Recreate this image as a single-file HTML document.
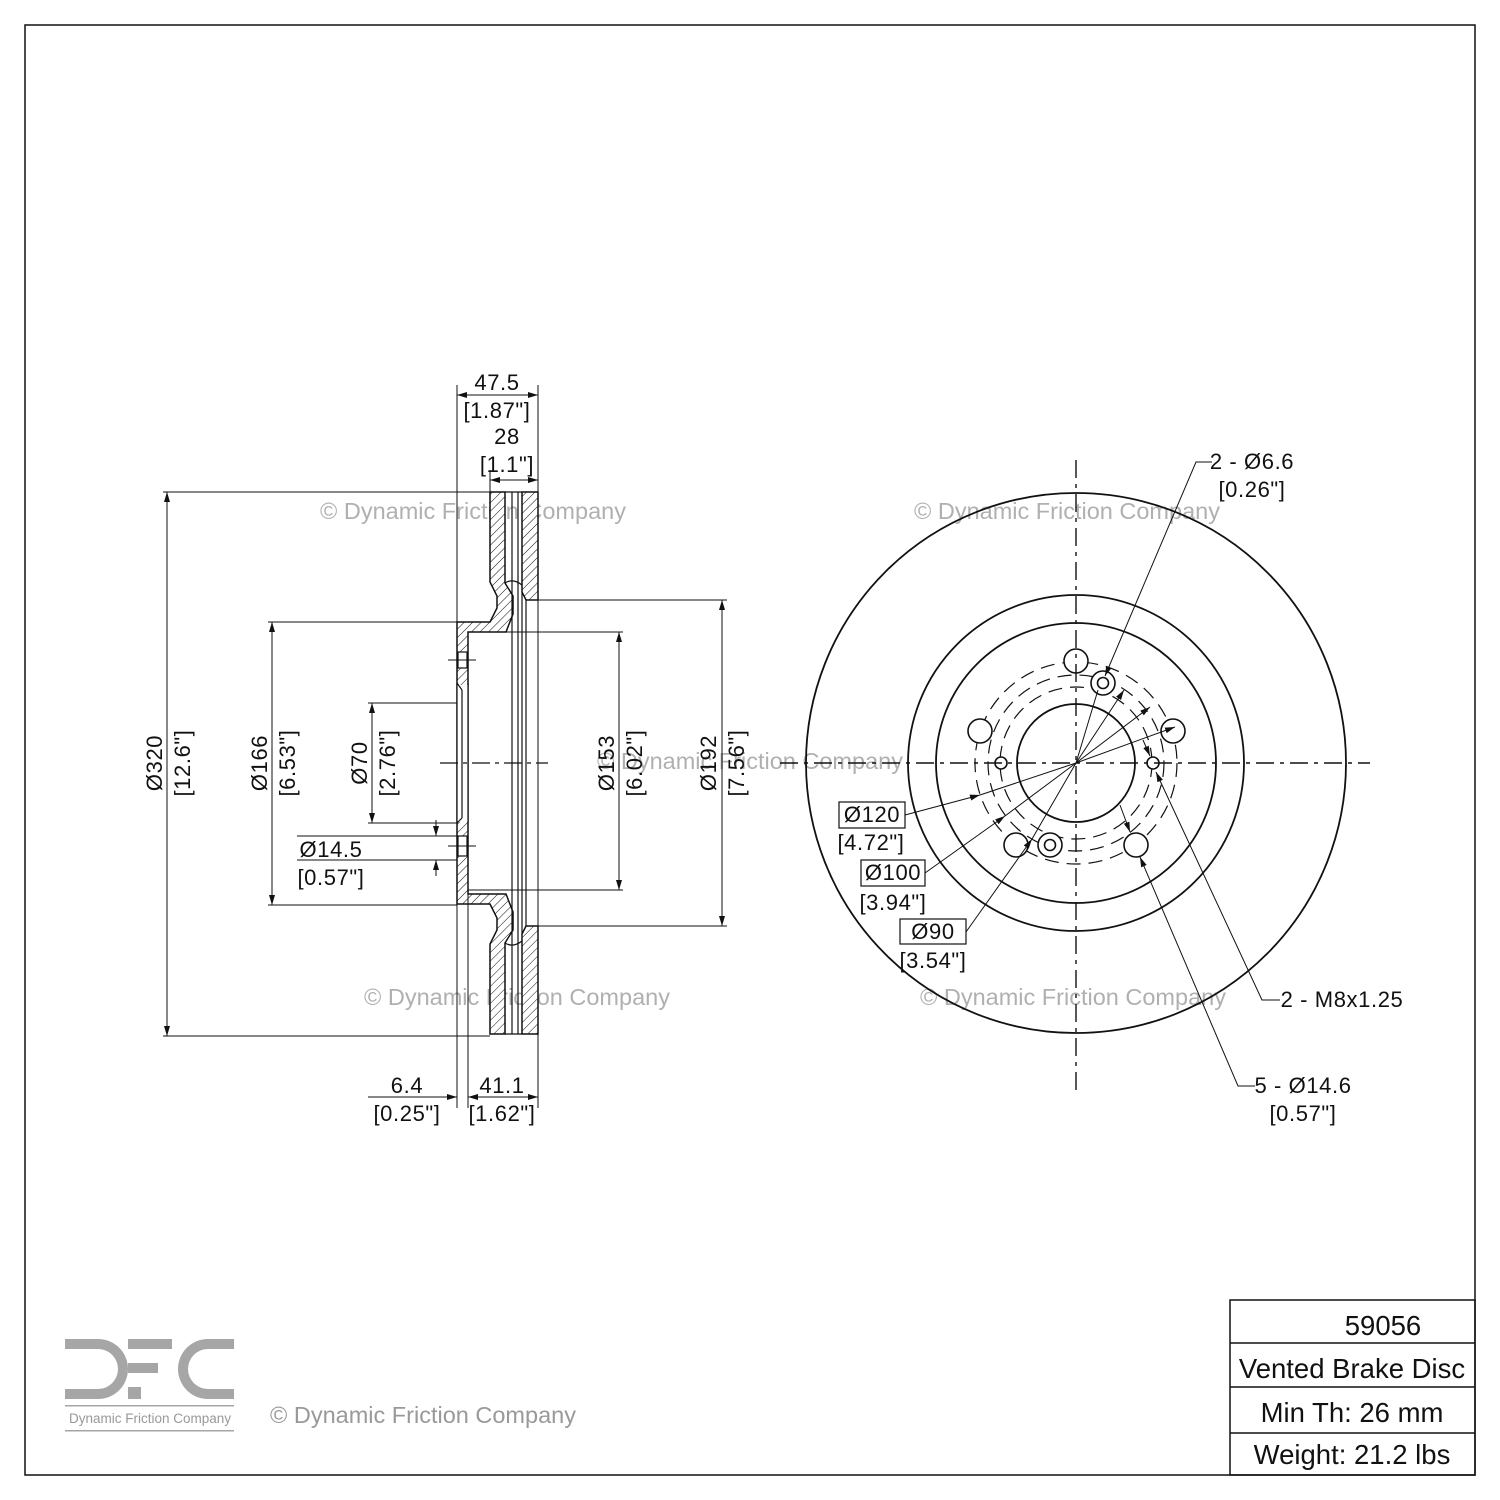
<!DOCTYPE html>
<html><head><meta charset="utf-8"><style>
html,body{margin:0;padding:0;background:#fff}
svg{display:block}
text{font-family:"Liberation Sans",sans-serif;fill:#111}
.wm{fill:#b0b0b0;font-size:23.5px}
.d{font-size:22px;letter-spacing:0.6px}
</style></head><body>
<svg width="1500" height="1500" viewBox="0 0 1500 1500" xmlns="http://www.w3.org/2000/svg">
<defs>
<pattern id="h" width="6" height="6" patternUnits="userSpaceOnUse" patternTransform="rotate(45)">
<rect width="6" height="6" fill="#fff"/><line x1="0" y1="0" x2="0" y2="6" stroke="#111" stroke-width="1"/></pattern>
<marker id="a" viewBox="0 0 10 10" refX="10" refY="5" markerWidth="10" markerHeight="10" markerUnits="userSpaceOnUse" orient="auto-start-reverse"><path d="M0,2 L10,5 L0,8 z" fill="#111"/></marker>
</defs>
<rect x="25" y="25" width="1450" height="1450" fill="none" stroke="#111" stroke-width="1.5"/>

<text class="wm" x="473" y="519" text-anchor="middle">© Dynamic Friction Company</text>
<text class="wm" x="1067" y="519" text-anchor="middle">© Dynamic Friction Company</text>
<text class="wm" x="750" y="769" text-anchor="middle">© Dynamic Friction Company</text>
<text class="wm" x="517" y="1005" text-anchor="middle">© Dynamic Friction Company</text>
<text class="wm" x="1073" y="1005" text-anchor="middle">© Dynamic Friction Company</text>

<g stroke="#111" stroke-width="1.5" fill="url(#h)">
<path d="M490,492 L505,492 L505,583 L513,596 L513,614 L506,632 L468,632 L468,894 L506,894 L513,912 L513,930 L505,943 L505,1034 L490,1034 L490,944 L497,930 L497,918 L490,904 L457,904 L457,622 L490,622 L497,608 L497,596 L490,582 Z"/>
<path d="M522,492 L538,492 L538,600 L526,600 L522,592 Z"/>
<path d="M522,1034 L538,1034 L538,926 L526,926 L522,934 Z"/>
</g>
<g stroke="#111" stroke-width="1.2" fill="#fff">
<rect x="457.5" y="685" width="10" height="137" stroke="none"/>
<rect x="458" y="652" width="9" height="16"/>
<rect x="458" y="836" width="9" height="20"/>
</g>
<g stroke="#111" stroke-width="1.2" fill="none">
<line x1="457" y1="683" x2="457" y2="823"/><line x1="462" y1="690" x2="462" y2="818"/><line x1="468" y1="683" x2="468" y2="823"/>
<path d="M457,683 L462,690 M457,823 L462,818"/>
<line x1="505" y1="492" x2="522" y2="492"/><line x1="505" y1="1034" x2="522" y2="1034"/>
<line x1="512" y1="492" x2="512" y2="1034"/><line x1="518" y1="492" x2="518" y2="1034"/>
<line x1="522" y1="592" x2="522" y2="934"/><line x1="526" y1="600" x2="526" y2="926"/>
<path d="M505,583 Q513,578 522,585 M505,943 Q513,948 522,941"/>
</g>
<line x1="440" y1="763" x2="548" y2="763" stroke="#111" stroke-width="1.2" stroke-dasharray="18,5,4,5"/>
<line x1="448" y1="660" x2="476" y2="660" stroke="#111" stroke-width="1"/>
<line x1="448" y1="846" x2="476" y2="846" stroke="#111" stroke-width="1"/>

<g stroke="#111" stroke-width="1" fill="none">
<line x1="163" y1="492" x2="490" y2="492"/><line x1="163" y1="1036" x2="490" y2="1036"/>
<line x1="167" y1="492" x2="167" y2="1036" marker-start="url(#a)" marker-end="url(#a)"/>
<line x1="268" y1="622" x2="457" y2="622"/><line x1="268" y1="905" x2="457" y2="905"/>
<line x1="272" y1="622" x2="272" y2="905" marker-start="url(#a)" marker-end="url(#a)"/>
<line x1="368" y1="703" x2="457" y2="703"/><line x1="368" y1="823" x2="457" y2="823"/>
<line x1="372" y1="703" x2="372" y2="823" marker-start="url(#a)" marker-end="url(#a)"/>
<line x1="297" y1="836" x2="457" y2="836"/><line x1="297" y1="860" x2="457" y2="860"/>
<line x1="436" y1="820" x2="436" y2="836" marker-end="url(#a)"/><line x1="436" y1="876" x2="436" y2="860" marker-end="url(#a)"/>
<line x1="468" y1="632" x2="623" y2="632"/><line x1="468" y1="890" x2="623" y2="890"/>
<line x1="619" y1="632" x2="619" y2="890" marker-start="url(#a)" marker-end="url(#a)"/>
<line x1="538" y1="600" x2="727" y2="600"/><line x1="538" y1="926" x2="727" y2="926"/>
<line x1="722" y1="600" x2="722" y2="926" marker-start="url(#a)" marker-end="url(#a)"/>
<line x1="457" y1="385" x2="457" y2="1108"/><line x1="538" y1="385" x2="538" y2="1108"/>
<line x1="468" y1="632" x2="468" y2="1108"/>
<line x1="457" y1="395" x2="538" y2="395" marker-start="url(#a)" marker-end="url(#a)"/>
<line x1="490" y1="470" x2="490" y2="492"/>
<line x1="490" y1="480" x2="538" y2="480" marker-start="url(#a)" marker-end="url(#a)"/>
<line x1="368" y1="1097" x2="457" y2="1097" marker-end="url(#a)"/>
<line x1="468" y1="1097" x2="538" y2="1097" marker-start="url(#a)" marker-end="url(#a)"/>
</g>
<g class="d">
<text x="497" y="390" text-anchor="middle">47.5</text><text x="497" y="418" text-anchor="middle">[1.87"]</text>
<text x="507" y="444" text-anchor="middle">28</text><text x="507" y="472" text-anchor="middle">[1.1"]</text>
<text x="407" y="1093" text-anchor="middle">6.4</text><text x="407" y="1121" text-anchor="middle">[0.25"]</text>
<text x="502" y="1093" text-anchor="middle">41.1</text><text x="502" y="1121" text-anchor="middle">[1.62"]</text>
<text x="331" y="857" text-anchor="middle">Ø14.5</text><text x="331" y="885" text-anchor="middle">[0.57"]</text>
<text transform="translate(162,763) rotate(-90)" text-anchor="middle">Ø320</text>
<text transform="translate(190,763) rotate(-90)" text-anchor="middle">[12.6"]</text>
<text transform="translate(267,763) rotate(-90)" text-anchor="middle">Ø166</text>
<text transform="translate(295,763) rotate(-90)" text-anchor="middle">[6.53"]</text>
<text transform="translate(367,763) rotate(-90)" text-anchor="middle">Ø70</text>
<text transform="translate(395,763) rotate(-90)" text-anchor="middle">[2.76"]</text>
<text transform="translate(614,763) rotate(-90)" text-anchor="middle">Ø153</text>
<text transform="translate(642,763) rotate(-90)" text-anchor="middle">[6.02"]</text>
<text transform="translate(716,763) rotate(-90)" text-anchor="middle">Ø192</text>
<text transform="translate(744,763) rotate(-90)" text-anchor="middle">[7.56"]</text>
</g>

<g stroke="#111" fill="none">
<circle cx="1076" cy="763" r="270" stroke-width="1.8"/>
<circle cx="1076" cy="763" r="168" stroke-width="1.8"/>
<circle cx="1076" cy="763" r="140" stroke-width="1.8"/>
<circle cx="1076" cy="763" r="59" stroke-width="1.8"/>
<circle cx="1076" cy="763" r="101" stroke-width="1.2" stroke-dasharray="14,8"/>
<circle cx="1076" cy="763" r="88" stroke-width="1.2" stroke-dasharray="14,8"/>
<circle cx="1076" cy="763" r="76" stroke-width="1.2" stroke-dasharray="14,8"/>
<g stroke-width="1.6" fill="#fff">
<circle cx="1076" cy="661" r="12"/><circle cx="980" cy="731" r="12"/><circle cx="1173" cy="731" r="12"/>
<circle cx="1016" cy="845" r="12"/><circle cx="1136" cy="845" r="12"/>
<circle cx="1001" cy="763" r="6"/><circle cx="1153" cy="763" r="6"/>
<circle cx="1103" cy="683" r="12"/><circle cx="1103" cy="683" r="5.5"/>
<circle cx="1050" cy="845" r="12"/><circle cx="1050" cy="845" r="5.5"/>
</g>
<line x1="1076" y1="460" x2="1076" y2="1090" stroke-width="1.4" stroke-dasharray="18,6,4,6"/>
<line x1="780" y1="763" x2="1370" y2="763" stroke-width="1.4" stroke-dasharray="18,6,4,6"/>
<g stroke-width="1">
<polyline points="1212,462 1196,462 1105,676" marker-end="url(#a)"/>
<polyline points="1280,1000 1262,1000 1156,772" marker-end="url(#a)"/>
<polyline points="1255,1086 1238,1086 1140,857" marker-end="url(#a)"/>
<polyline points="905,815 980,795"  marker-end="url(#a)"/><line x1="980" y1="795" x2="1076" y2="763"/>
<line x1="1076" y1="763" x2="1175" y2="727" marker-end="url(#a)"/>
<polyline points="925,873 1005,816" marker-end="url(#a)"/><line x1="1005" y1="816" x2="1076" y2="763"/>
<line x1="1076" y1="763" x2="1150" y2="707" marker-end="url(#a)"/>
<polyline points="966,932 1032,839" marker-end="url(#a)"/><line x1="1032" y1="839" x2="1076" y2="763"/>
<line x1="1076" y1="763" x2="1124" y2="690" marker-end="url(#a)"/>
<line x1="1076" y1="763" x2="1098" y2="690" />
<line x1="1120" y1="805" x2="1130" y2="832" marker-end="url(#a)"/>
<line x1="1143" y1="740" x2="1150" y2="756" marker-end="url(#a)"/>
</g>
<g stroke-width="1.2" fill="#fff">
<rect x="839" y="802" width="66" height="26"/>
<rect x="861" y="860" width="64" height="26"/>
<rect x="900" y="919" width="66" height="25"/>
</g>
</g>
<g class="d">
<text x="1252" y="469" text-anchor="middle">2 - Ø6.6</text><text x="1252" y="497" text-anchor="middle">[0.26"]</text>
<text x="1342" y="1007" text-anchor="middle">2 - M8x1.25</text>
<text x="1303" y="1093" text-anchor="middle">5 - Ø14.6</text><text x="1303" y="1121" text-anchor="middle">[0.57"]</text>
<text x="872" y="822" text-anchor="middle">Ø120</text><text x="871" y="850" text-anchor="middle">[4.72"]</text>
<text x="893" y="880" text-anchor="middle">Ø100</text><text x="893" y="910" text-anchor="middle">[3.94"]</text>
<text x="933" y="939" text-anchor="middle">Ø90</text><text x="933" y="968" text-anchor="middle">[3.54"]</text>
</g>

<g stroke="#111" stroke-width="1.5" fill="none">
<rect x="1230" y="1300" width="245" height="175"/>
<line x1="1230" y1="1343" x2="1475" y2="1343"/><line x1="1230" y1="1387" x2="1475" y2="1387"/><line x1="1230" y1="1433" x2="1475" y2="1433"/>
</g>
<g font-size="27.5" text-anchor="middle">
<text x="1383" y="1335">59056</text>
<text x="1352" y="1378">Vented Brake Disc</text>
<text x="1352" y="1422">Min Th: 26 mm</text>
<text x="1352" y="1464">Weight: 21.2 lbs</text>
</g>

<g fill="#a6a6a6">
<path d="M65,1339 H98 A30,30 0 0 1 98,1399 H65 V1389 H98 A20,20 0 0 0 98,1349 H65 Z"/>
<rect x="128" y="1339" width="44" height="10"/>
<rect x="128" y="1363" width="30" height="10"/>
<rect x="128" y="1387" width="13" height="12"/>
<path d="M234,1339 H208 A30,30 0 0 0 208,1399 H234 V1389 H208 A20,20 0 0 1 208,1349 H234 Z"/>
<rect x="65" y="1405" width="169" height="1.5"/>
<rect x="65" y="1430" width="169" height="1.5"/>
</g>
<text x="150" y="1423" font-size="13.5" text-anchor="middle" style="fill:#999">Dynamic Friction Company</text>
<text class="wm" x="423" y="1423" text-anchor="middle" style="fill:#999">© Dynamic Friction Company</text>
</svg>
</body></html>
